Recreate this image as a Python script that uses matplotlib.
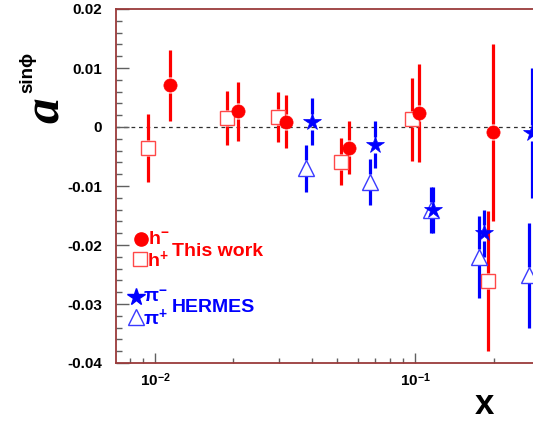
import numpy as np
import matplotlib
matplotlib.use('Agg')
import matplotlib.pyplot as plt
from matplotlib.ticker import FixedLocator, MultipleLocator, FuncFormatter, LogLocator, NullFormatter

plt.rcParams['font.family'] = ['Liberation Sans', 'DejaVu Sans']
plt.rcParams['font.weight'] = 'bold'
plt.rcParams['axes.unicode_minus'] = False
plt.rcParams['mathtext.fontset'] = 'custom'
plt.rcParams['mathtext.rm'] = 'Liberation Sans:bold'
plt.rcParams['mathtext.bf'] = 'Liberation Sans:bold'
plt.rcParams['mathtext.it'] = 'Liberation Serif:bold:italic'

# this work, h-  (filled circles)
hm_x = [0.0114, 0.0208, 0.0319, 0.0557, 0.1035, 0.1995]
hm_y = [0.0071, 0.0027, 0.0009, -0.0035, 0.0024, -0.0009]
hm_e = [0.0060, 0.0050, 0.0045, 0.0045, 0.0083, 0.0150]
# this work, h+  (open squares)
hp_x = [0.0094, 0.0189, 0.0297, 0.0519, 0.0967, 0.191]
hp_y = [-0.0036, 0.0015, 0.0017, -0.0059, 0.0013, -0.0261]
hp_e = [0.0058, 0.0046, 0.0042, 0.0040, 0.0070, 0.0118]
# HERMES pi-  (stars)
pm_x = [0.0402, 0.0702, 0.117, 0.184, 0.282]
pm_y = [0.0009, -0.0030, -0.0141, -0.0180, -0.0010]
pm_e = [0.0040, 0.0040, 0.0039, 0.0040, 0.0110]
# HERMES pi+  (open triangles)
pp_x = [0.0381, 0.0671, 0.1145, 0.176, 0.274]
pp_y = [-0.0070, -0.0093, -0.0141, -0.0220, -0.0251]
pp_e = [0.0040, 0.0039, 0.0039, 0.0070, 0.0089]

RED = '#ff0000'
BLUE = '#0000ff'
W, H = 533, 421

fig = plt.figure(figsize=(W / 100, H / 100), dpi=100)
ax = fig.add_axes([116 / W, 58 / H, 456 / W, 354 / H])
ax.set_xscale('log')
ax.set_xlim(10 ** -2.15, 0.4)
ax.set_ylim(-0.04, 0.02)

ax.axhline(0, color='#303030', lw=0.9, ls=(0, (3, 3)), zorder=1)

# gap around markers, like ROOT draws its error bars
ppu = 354 / 0.06
gap = 8 / ppu


def draw(xs, ys, es, color, marker, ms, face, edge, mew):
    xs, ys, es = np.array(xs), np.array(ys), np.array(es)
    ax.vlines(xs, ys + gap, ys + es, color=color, lw=2.3, zorder=2)
    ax.vlines(xs, ys - es, ys - gap, color=color, lw=2.3, zorder=2)
    ax.plot(xs, ys, ls='none', marker=marker, ms=ms, mfc=face, mec=edge,
            mew=mew, zorder=3)


draw(hp_x, hp_y, hp_e, RED, 's', 10, 'white', '#ff4848', 1.0)
draw(pp_x, pp_y, pp_e, BLUE, '^', 11, 'white', '#3a3aff', 1.0)
draw(pm_x, pm_y, pm_e, BLUE, '*', 13, BLUE, BLUE, 0.5)
draw(hm_x, hm_y, hm_e, RED, 'o', 9.5, RED, RED, 0.5)

# axes styling
for side in ['top', 'bottom', 'left', 'right']:
    ax.spines[side].set_color('#9a3a3a')
    ax.spines[side].set_linewidth(1.3)

ax.yaxis.set_major_locator(MultipleLocator(0.01))
ax.yaxis.set_minor_locator(MultipleLocator(0.002))
ax.yaxis.set_major_formatter(FuncFormatter(lambda v, p: '%g' % round(v, 4)))
ax.xaxis.set_major_locator(FixedLocator([0.01, 0.1]))
ax.xaxis.set_minor_locator(LogLocator(base=10, subs=np.arange(2, 10)))
ax.xaxis.set_minor_formatter(NullFormatter())
ax.set_xticklabels([r'$10^{-2}$', r'$10^{-1}$'])

ax.tick_params(axis='y', which='major', direction='in', length=9, width=1,
               color='#606060', labelsize=11, pad=10)
ax.tick_params(axis='y', which='minor', direction='in', length=4.5, width=1,
               color='#606060')
ax.tick_params(axis='x', which='major', direction='in', length=7, width=1,
               color='#606060', labelsize=11, pad=6)
ax.tick_params(axis='x', which='minor', direction='in', length=3.5, width=1,
               color='#606060')
ax.tick_params(top=False, right=False)

# axis titles
fig.text(47 / W, 1 - 110 / H, 'a', family='Liberation Serif', style='italic',
         weight='bold', fontsize=37, rotation=90, ha='center', va='center')
fig.text(28 / W, 1 - 72 / H, 'sinϕ', family=['Liberation Sans', 'DejaVu Sans'],
         weight='bold', fontsize=13.5, rotation=90, ha='center', va='center')
fig.text(484 / W, 1 - 404 / H, 'x', weight='bold', fontsize=25,
         ha='center', va='center')

# legend
def fx(px):
    return px / W


def fy(py):
    return 1 - py / H


leg = [
    (141, 239, 'o', 9.5, RED, RED, r'h$^{-}$', RED),
    (140, 259, 's', 10, 'white', '#ff4848', r'h$^{+}$', RED),
    (136, 297, '*', 13, BLUE, BLUE, r'π$^{-}$', BLUE),
    (136, 317, '^', 11, 'white', '#3a3aff', r'π$^{+}$', BLUE),
]
for px, py, mk, ms, fc, ec, lab, col in leg:
    fig.add_artist(plt.Line2D([fx(px)], [fy(py)], ls='none', marker=mk, ms=ms,
                              mfc=fc, mec=ec, mew=1.0))
    fig.text(fx(px + 7), fy(py + 1), lab, color=col, fontsize=14,
             ha='left', va='center')

fig.text(fx(172), fy(252), 'This work', color=RED, fontsize=14, weight='bold',
         ha='left', va='center')
fig.text(fx(172), fy(308), 'HERMES', color=BLUE, fontsize=14, weight='bold',
         ha='left', va='center')

fig.savefig('out.png', dpi=100)
